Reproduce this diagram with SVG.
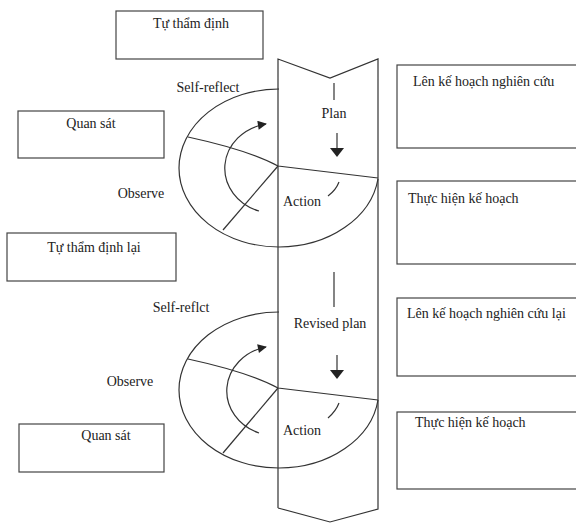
<svg xmlns="http://www.w3.org/2000/svg" width="576" height="523" viewBox="0 0 576 523">
<style>
  .box{fill:none;stroke:#444;stroke-width:1.2}
  .ln{fill:none;stroke:#333;stroke-width:1.2}
  .t{font-family:"Liberation Serif","Times New Roman","DejaVu Serif",serif;font-size:14px;fill:#222}
  .m{text-anchor:middle}
</style>
<defs>
  <marker id="ah" viewBox="0 0 10 10" refX="9" refY="5" markerWidth="11" markerHeight="9" markerUnits="userSpaceOnUse" orient="auto">
    <path d="M0,0 L10,5 L0,10 Z" fill="#222"/>
  </marker>
</defs>
<rect width="576" height="523" fill="#fff"/>

<g id="box-tu-tham-dinh"><rect class="box" x="116" y="11" width="147" height="48"/><text class="t m" x="191" y="28">Tự thẩm định</text></g>
<g id="box-quan-sat-1"><rect class="box" x="18" y="111" width="146" height="47"/><text class="t m" x="91" y="128">Quan sát</text></g>
<g id="box-tu-tham-dinh-lai"><rect class="box" x="7" y="233" width="169" height="48"/><text class="t m" x="94" y="252">Tự thẩm định lại</text></g>
<g id="box-quan-sat-2"><rect class="box" x="19" y="424" width="145" height="48"/><text class="t m" x="106" y="440">Quan sát</text></g>

<g id="box-len-ke-hoach"><rect class="box" x="397" y="65" width="185" height="83"/><text class="t" x="413" y="86">Lên kế hoạch nghiên cứu</text></g>
<g id="box-thuc-hien-1"><rect class="box" x="397" y="181" width="185" height="83"/><text class="t" x="408" y="203">Thực hiện kế hoạch</text></g>
<g id="box-len-ke-hoach-lai"><rect class="box" x="397" y="298" width="185" height="78"/><text class="t" x="407" y="318">Lên kế hoạch nghiên cứu lại</text></g>
<g id="box-thuc-hien-2"><rect class="box" x="397" y="412" width="185" height="77"/><text class="t" x="415" y="427">Thực hiện kế hoạch</text></g>

<g id="band">
  <path class="ln" d="M278,508 L278,59 L330,78 L378,59 L378,509 L330,522 L278,508"/>
</g>

<g id="cycle-1">
  <path class="ln" d="M279,89 A100,79 0 0,0 279,247 A100,79 0 0,0 378,179"/>
  <path class="ln" d="M188,137 Q248,150 278,166 L378,178"/>
  <path class="ln" d="M278,166 L223,230"/>
  <path class="ln" d="M259,211 A50,45 0 0,1 266,124" marker-end="url(#ah)"/>
  <path class="ln" d="M339,182 Q336,190 328,196"/>
  <text class="t" x="208" y="92" text-anchor="middle">Self-reflect</text>
  <text class="t" x="141" y="198" text-anchor="middle">Observe</text>
  <text class="t" x="334" y="118" text-anchor="middle">Plan</text>
  <text class="t" x="283" y="206">Action</text>
</g>

<g id="cycle-2">
  <path class="ln" d="M279,312 A100,78 0 0,0 279,468 A100,78 0 0,0 378,400"/>
  <path class="ln" d="M188,359 Q248,372 278,388 L378,400"/>
  <path class="ln" d="M278,388 L223,453"/>
  <path class="ln" d="M259,433 A50,45 0 0,1 266,347" marker-end="url(#ah)"/>
  <path class="ln" d="M339,403 Q336,411 328,418"/>
  <text class="t" x="181" y="312" text-anchor="middle">Self-reflct</text>
  <text class="t" x="130" y="386" text-anchor="middle">Observe</text>
  <text class="t" x="330" y="328" text-anchor="middle">Revised plan</text>
  <text class="t" x="283" y="435">Action</text>
</g>

<g id="connectors">
  <line class="ln" x1="334" y1="83" x2="334" y2="100"/>
  <line class="ln" x1="337" y1="133" x2="337" y2="149"/>
  <path d="M330,148 L344,148 L337,157 Z" fill="#222"/>
  <line class="ln" x1="334" y1="272" x2="334" y2="307"/>
  <line class="ln" x1="337" y1="355" x2="337" y2="371"/>
  <path d="M330,370 L344,370 L337,379 Z" fill="#222"/>
</g>
</svg>
